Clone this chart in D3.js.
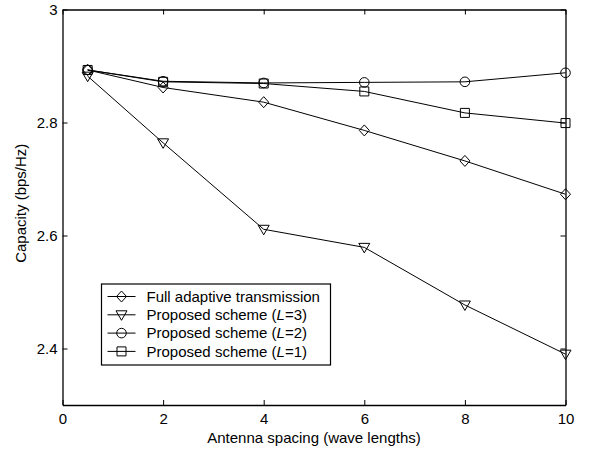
<!DOCTYPE html>
<html>
<head>
<meta charset="utf-8">
<script src="https://cdn.jsdelivr.net/npm/d3@7"></script>
<style>
  body { margin: 0; background: #fff; }
  svg text { font-family: "Liberation Sans", Arial, sans-serif; fill: #000; }
</style>
</head>
<body>
<svg id="chart" width="590" height="450"></svg>
<script>
// Capacity vs antenna spacing, four schemes
const spacing = [0.5, 2, 4, 6, 8, 10];
const fullAdaptive = [2.893, 2.862, 2.836, 2.786, 2.732, 2.673];
const schemeL3 = [2.882, 2.764, 2.611, 2.579, 2.477, 2.390];
const schemeL2 = [2.893, 2.873, 2.870, 2.871, 2.872, 2.888];
const schemeL1 = [2.893, 2.872, 2.869, 2.855, 2.817, 2.799];
const xTicks = [0, 2, 4, 6, 8, 10];
const yTicks = [2.4, 2.6, 2.8, 3];

const series = [
  { name: 'Full adaptive transmission', values: fullAdaptive, marker: 'diamond' },
  { name: 'Proposed scheme (', L: '3', values: schemeL3, marker: 'triangle' },
  { name: 'Proposed scheme (', L: '2', values: schemeL2, marker: 'circle' },
  { name: 'Proposed scheme (', L: '1', values: schemeL1, marker: 'square' }
];

const margin = { left: 62.5, top: 9.5, right: 24.5, bottom: 45 };
const W = 590, H = 450;
const FS = 15;
const svg = d3.select('#chart');

const x = d3.scaleLinear().domain([0, 10]).range([margin.left, W - margin.right]);
const y = d3.scaleLinear().domain([2.3, 3]).range([H - margin.bottom, margin.top]);

// Marker paths centered on 0,0
function markerPath(type) {
  if (type === 'diamond') return 'M0,-5.5L5,0L0,5.5L-5,0Z';
  if (type === 'triangle') return 'M-5.5,-4L5.5,-4L0,5.5Z';
  if (type === 'square') return 'M-4.5,-4.5H4.5V4.5H-4.5Z';
  const p = d3.path();
  p.arc(0, 0, 4.8, 0, 2 * Math.PI);
  p.closePath();
  return p.toString();
}

const plot = svg.append('g');

// Axes (box with inward ticks)
const tickLen = 5;
const axisBottom = d3.axisBottom(x).tickValues(xTicks).tickSizeInner(-tickLen).tickSizeOuter(0).tickPadding(8);
const axisTop = d3.axisTop(x).tickValues(xTicks).tickSizeInner(-tickLen).tickSizeOuter(0).tickFormat('');
const axisLeft = d3.axisLeft(y).tickValues(yTicks).tickSizeInner(-tickLen).tickSizeOuter(0).tickPadding(5).tickFormat(d3.format('~g'));
const axisRight = d3.axisRight(y).tickValues(yTicks).tickSizeInner(-tickLen).tickSizeOuter(0).tickFormat('');

const gB = svg.append('g').attr('transform', `translate(0,${y.range()[0]})`).call(axisBottom);
const gT = svg.append('g').attr('transform', `translate(0,${y.range()[1]})`).call(axisTop);
const gL = svg.append('g').attr('transform', `translate(${x.range()[0]},0)`).call(axisLeft);
const gR = svg.append('g').attr('transform', `translate(${x.range()[1]},0)`).call(axisRight);

[gB, gT, gL, gR].forEach(g => {
  g.selectAll('.domain').attr('stroke', '#000').attr('stroke-width', 1.3);
  g.selectAll('.tick line').attr('stroke', '#000');
  g.selectAll('.tick text').attr('font-size', FS).attr('font-family', '"Liberation Sans", Arial, sans-serif').attr('fill', '#000');
});

// Lines and markers
const line = d3.line().x((d, i) => x(spacing[i])).y(d => y(d));

series.forEach(s => {
  plot.append('path')
    .attr('d', line(s.values))
    .attr('fill', 'none')
    .attr('stroke', '#000')
    .attr('stroke-width', 1);
  plot.selectAll(null)
    .data(s.values)
    .enter()
    .append('path')
    .attr('d', markerPath(s.marker))
    .attr('transform', (d, i) => `translate(${x(spacing[i])},${y(d)})`)
    .attr('fill', 'none')
    .attr('stroke', '#000')
    .attr('stroke-width', 1);
});

// Legend
const legend = svg.append('g').attr('transform', 'translate(101.5,284)');
legend.append('rect')
  .attr('width', 229)
  .attr('height', 81)
  .attr('fill', '#fff')
  .attr('stroke', '#000')
  .attr('stroke-width', 1.2);

series.forEach((s, i) => {
  const cy = 12.5 + i * 18.3;
  const row = legend.append('g').attr('transform', `translate(0,${cy})`);
  row.append('line').attr('x1', 6).attr('x2', 34).attr('y1', 0).attr('y2', 0).attr('stroke', '#000');
  row.append('path').attr('d', markerPath(s.marker)).attr('transform', 'translate(20,0)')
    .attr('fill', 'none').attr('stroke', '#000');
  const t = row.append('text').attr('x', 45).attr('y', 5.3).attr('font-size', FS);
  if (s.L) {
    t.append('tspan').text(s.name);
    t.append('tspan').attr('font-style', 'italic').text('L');
    t.append('tspan').text('=' + s.L + ')');
  } else {
    t.text(s.name);
  }
});

// Axis titles
svg.append('text')
  .attr('x', (x.range()[0] + x.range()[1]) / 2)
  .attr('y', 443)
  .attr('text-anchor', 'middle')
  .attr('font-size', FS)
  .text('Antenna spacing (wave lengths)');

svg.append('text')
  .attr('transform', `translate(26,${(y.range()[0] + y.range()[1]) / 2 - 4}) rotate(-90)`)
  .attr('text-anchor', 'middle')
  .attr('font-size', FS)
  .text('Capacity (bps/Hz)');
</script>
</body>
</html>
